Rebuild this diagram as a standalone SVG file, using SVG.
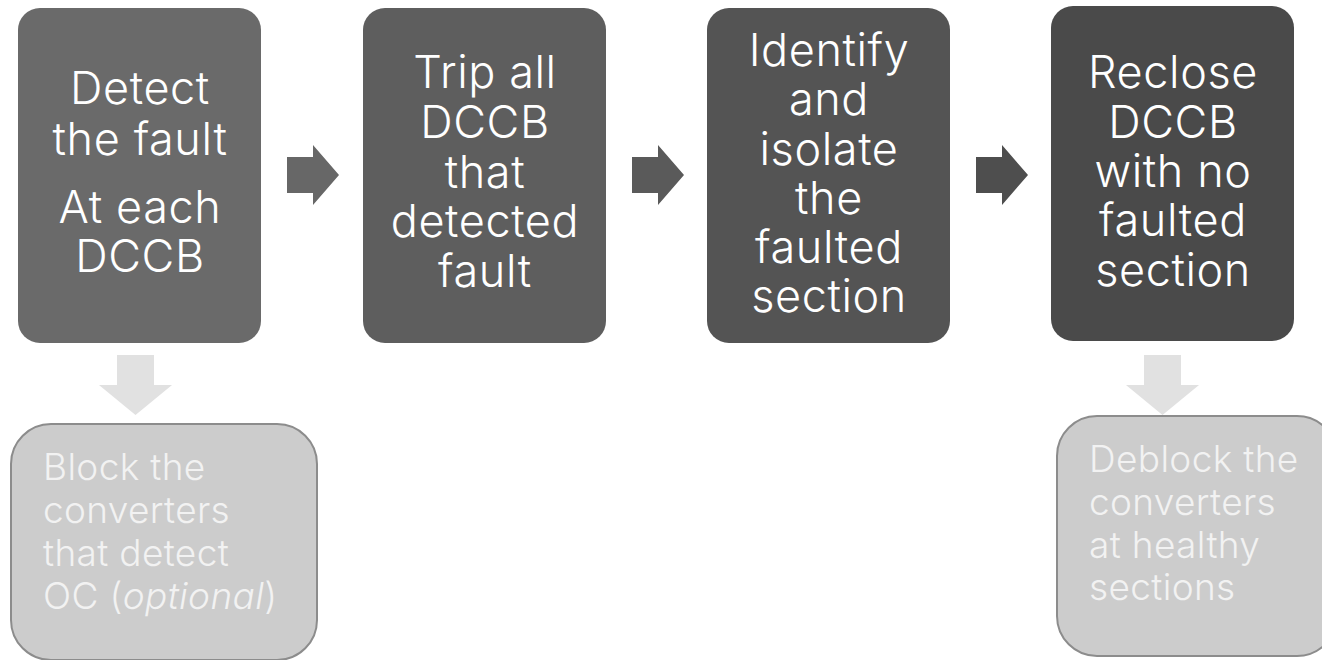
<svg xmlns="http://www.w3.org/2000/svg" width="1322" height="660" viewBox="0 0 1322 660">
<style>
.main{font-family:Inter,"Liberation Sans",sans-serif;font-size:45px;font-weight:300;letter-spacing:0.6px;fill:#ffffff;text-anchor:middle}
.sub{font-family:Inter,"Liberation Sans",sans-serif;font-size:37px;font-weight:300;letter-spacing:0.35px;fill:#f2f2f2}
.lower{fill:#cccccc;stroke:#8c8c8c;stroke-width:2}
.down{fill:#e1e1e1}
</style>
<rect width="1322" height="660" fill="#ffffff"/>
<g id="connectors">
<path d="M287,157 H313 V145 L339,175 L313,205 V193 H287 Z" fill="#676767"/>
<path d="M632,157 H658 V145 L684,175 L658,205 V193 H632 Z" fill="#5a5a5a"/>
<path d="M976,157 H1002 V145 L1028,175 L1002,205 V193 H976 Z" fill="#4e4e4e"/>
<path class="down" d="M117,355 H154 V385 H172 L135.5,415 L99,385 H117 Z"/>
<path class="down" d="M1144,355 H1181 V385 H1199 L1162.5,415 L1126,385 H1144 Z"/>
</g>
<g id="n1">
<rect x="18" y="8" width="243" height="335" rx="22" fill="#6a6a6a"/>
<text class="main" x="140" y="104">Detect</text>
<text class="main" x="140" y="155">the fault</text>
<text class="main" x="140" y="223">At each</text>
<text class="main" x="140" y="272">DCCB</text>
</g>
<g id="n2">
<rect x="363" y="8" width="243" height="335" rx="22" fill="#5e5e5e"/>
<text class="main" x="485" y="88">Trip all</text>
<text class="main" x="485" y="138">DCCB</text>
<text class="main" x="485" y="188">that</text>
<text class="main" x="485" y="237">detected</text>
<text class="main" x="485" y="287">fault</text>
</g>
<g id="n3">
<rect x="707" y="8" width="243" height="335" rx="22" fill="#545454"/>
<text class="main" x="829" y="66">Identify</text>
<text class="main" x="829" y="115">and</text>
<text class="main" x="829" y="165">isolate</text>
<text class="main" x="829" y="214">the</text>
<text class="main" x="829" y="263">faulted</text>
<text class="main" x="829" y="312">section</text>
</g>
<g id="n4">
<rect x="1051" y="6" width="243" height="335" rx="22" fill="#4a4a4a"/>
<text class="main" x="1173" y="88">Reclose</text>
<text class="main" x="1173" y="138">DCCB</text>
<text class="main" x="1173" y="187">with no</text>
<text class="main" x="1173" y="236">faulted</text>
<text class="main" x="1173" y="286">section</text>
</g>
<g id="n5">
<rect class="lower" x="11" y="424" width="306" height="236" rx="40"/>
<text class="sub" x="43" y="480">Block the</text>
<text class="sub" x="43" y="523">converters</text>
<text class="sub" x="43" y="566">that detect</text>
<text class="sub" x="43" y="609">OC (<tspan font-style="italic">optional</tspan>)</text>
</g>
<g id="n6">
<rect class="lower" x="1057" y="416" width="280" height="240" rx="40"/>
<text class="sub" x="1089" y="472">Deblock the</text>
<text class="sub" x="1089" y="515">converters</text>
<text class="sub" x="1089" y="558">at healthy</text>
<text class="sub" x="1089" y="600">sections</text>
</g>
</svg>
